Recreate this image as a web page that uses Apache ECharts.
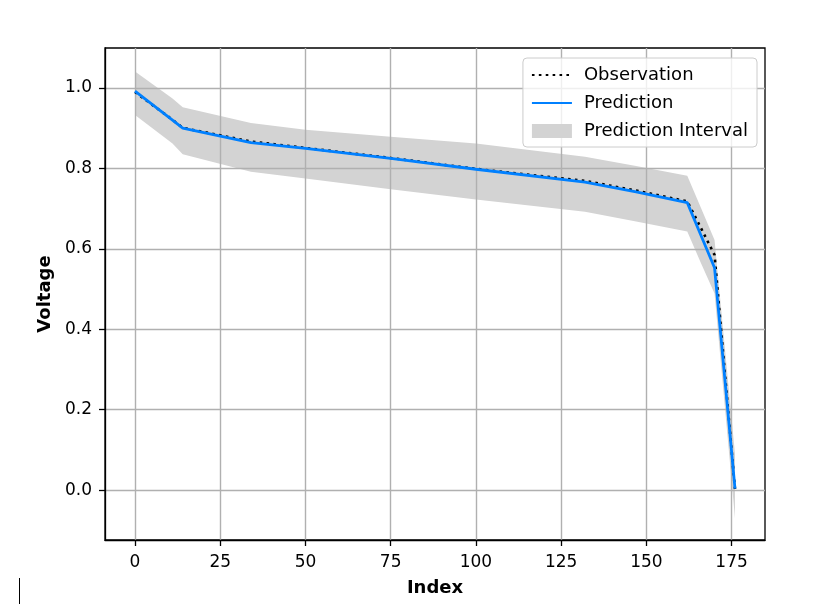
<!DOCTYPE html>
<html>
<head>
<meta charset="utf-8">
<script src="https://cdn.jsdelivr.net/npm/echarts@6/dist/echarts.min.js"></script>
<style>
html, body { margin: 0; padding: 0; background: #fff; }
#chart { width: 816px; height: 616px; }
</style>
</head>
<body>
<div id="chart"></div>
<script>
// sample positions
var index      = [0,     11,    14,    34,    50,    75,    100,   132,   147,   162,   166,   170,   176];
var observed   = [0.990, 0.921, 0.901, 0.867, 0.851, 0.826, 0.799, 0.769, 0.745, 0.718, 0.652, 0.585, 0.003];
var predicted  = [0.992, 0.920, 0.900, 0.864, 0.850, 0.825, 0.798, 0.766, 0.742, 0.715, 0.634, 0.553, 0.004];
var upperBound = [1.041, 0.974, 0.952, 0.913, 0.896, 0.879, 0.862, 0.829, 0.806, 0.782, 0.702, 0.622, 0.090];
var lowerBound = [0.933, 0.862, 0.835, 0.792, 0.775, 0.748, 0.723, 0.692, 0.668, 0.643, 0.565, 0.489, -0.070];

var FONT = 'DejaVu Sans';

function pairs(ys) {
    return index.map(function (x, i) { return [x, ys[i]]; });
}

var dom = document.getElementById('chart');
var myChart = echarts.init(dom, null, { renderer: 'canvas' });

var option = {
    animation: false,
    backgroundColor: '#fff',
    textStyle: { fontFamily: FONT },
    grid: {
        left: 105, right: 51, top: 48, bottom: 76,
        show: true,
        borderColor: '#000',
        borderWidth: 1.3,
        containLabel: false
    },
    legend: {
        orient: 'vertical',
        right: 59,
        top: 58,
        itemWidth: 40,
        itemHeight: 14,
        itemGap: 8,
        padding: [7, 9, 6, 8],
        backgroundColor: 'rgba(255,255,255,0.8)',
        borderColor: '#cccccc',
        borderWidth: 1,
        borderRadius: 4,
        textStyle: {
            fontFamily: FONT,
            fontSize: 18,
            color: '#000',
            lineHeight: 20,
            padding: [0, 0, 0, 7]
        },
        data: [
            { name: 'Observation', itemStyle: { opacity: 0 } },
            { name: 'Prediction', itemStyle: { opacity: 0 } },
            { name: 'Prediction Interval', icon: 'rect', itemStyle: { color: '#d3d3d3' } }
        ]
    },
    xAxis: {
        type: 'value',
        min: -8.8,
        max: 184.8,
        minInterval: 25,
        maxInterval: 25,
        z: 2,
        name: 'Index',
        nameLocation: 'middle',
        nameGap: 39,
        nameTextStyle: { fontFamily: FONT, fontSize: 18, fontWeight: 'bold', color: '#000' },
        axisLine: { show: true, onZero: false, lineStyle: { color: '#000', width: 1.3 } },
        axisTick: { show: true, inside: false, length: 6, lineStyle: { color: '#000', width: 1.3 } },
        axisLabel: {
            fontFamily: FONT, fontSize: 17, color: '#000', margin: 14,
            showMinLabel: false, showMaxLabel: false
        },
        splitLine: {
            show: true, showMinLine: false, showMaxLine: false,
            lineStyle: { color: '#b0b0b0', width: 1.4 }
        }
    },
    yAxis: {
        type: 'value',
        min: -0.124,
        max: 1.0995,
        minInterval: 0.2,
        maxInterval: 0.2,
        z: 2,
        name: 'Voltage',
        nameLocation: 'middle',
        nameRotate: 90,
        nameGap: 51,
        nameTextStyle: { fontFamily: FONT, fontSize: 18, fontWeight: 'bold', color: '#000' },
        axisLine: { show: true, onZero: false, lineStyle: { color: '#000', width: 1.3 } },
        axisTick: { show: true, inside: false, length: 6, lineStyle: { color: '#000', width: 1.3 } },
        axisLabel: {
            fontFamily: FONT, fontSize: 17, color: '#000', margin: 13,
            showMinLabel: false, showMaxLabel: false,
            formatter: function (v) { return v.toFixed(1); }
        },
        splitLine: {
            show: true, showMinLine: false, showMaxLine: false,
            lineStyle: { color: '#b0b0b0', width: 1.4 }
        }
    },
    graphic: [{
        // stray mark at lower left of the reference
        type: 'line',
        shape: { x1: 19.5, y1: 578, x2: 19.5, y2: 604 },
        style: { stroke: '#000', lineWidth: 1 }
    }],
    series: [
        {
            name: 'Prediction Interval',
            type: 'custom',
            data: [[0, 0]],
            silent: true,
            itemStyle: { color: '#d3d3d3' },
            z: 1,
            renderItem: function (params, api) {
                var pts = [];
                for (var i = 0; i < index.length; i++) {
                    pts.push(api.coord([index[i], upperBound[i]]));
                }
                for (var j = index.length - 1; j >= 0; j--) {
                    pts.push(api.coord([index[j], lowerBound[j]]));
                }
                return {
                    type: 'polygon',
                    shape: { points: pts },
                    style: { fill: '#d3d3d3' }
                };
            }
        },
        {
            name: 'Observation',
            type: 'line',
            data: pairs(observed),
            symbol: 'none',
            itemStyle: { color: '#000' },
            lineStyle: { color: '#000', width: 2.6, type: [2.6, 4.3], cap: 'butt' },
            z: 3
        },
        {
            name: 'Prediction',
            type: 'line',
            data: pairs(predicted),
            symbol: 'none',
            itemStyle: { color: '#0080ff' },
            lineStyle: { color: '#0080ff', width: 2.8 },
            z: 4
        }
    ]
};

if (option && typeof option === 'object') {
    myChart.setOption(option, true);
}
</script>
</body>
</html>
